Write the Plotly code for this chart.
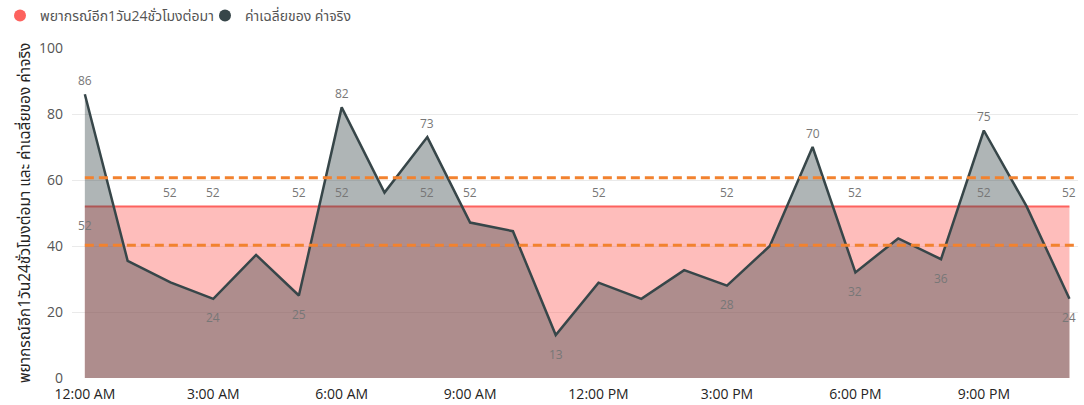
import plotly.graph_objects as go

# Hourly series for one day
hours = list(range(24))
tick_hours = [0, 3, 6, 9, 12, 15, 18, 21]
tick_labels = ["12:00 AM", "3:00 AM", "6:00 AM", "9:00 AM",
               "12:00 PM", "3:00 PM", "6:00 PM", "9:00 PM"]

forecast = [52] * 24
actual = [86, 35.5, 29, 24, 37.3, 25, 82, 56.2, 73, 47.1, 44.5, 13,
          28.9, 24, 32.7, 28, 40, 70, 32, 42.3, 36, 75, 52, 24]

# Which points carry a data label, and on which side of the mark
forecast_label_pos = {0: "below", 2: "above", 3: "above", 5: "above", 6: "above",
                      8: "above", 9: "above", 12: "above", 15: "above",
                      18: "above", 21: "above", 23: "above"}
actual_label_pos = {0: "above", 3: "below", 5: "below", 6: "above", 8: "above",
                    11: "below", 15: "below", 17: "above", 18: "below",
                    20: "below", 21: "above", 23: "below"}

# Reference band
upper_band = 60.7
lower_band = 40.2

legend_names = ["พยากรณ์อีก1วัน24ชั่วโมงต่อมา", "ค่าเฉลี่ยของ ค่าจริง"]
y_title = "พยากรณ์อีก1วัน24ชั่วโมงต่อมา และ ค่าเฉลี่ยของ ค่าจริง"

FONT = "Open Sans, Noto Sans, Noto Sans Thai, sans-serif"
RED = "#FD625E"
DARK = "#374649"
ORANGE = "#F2822F"

fig = go.Figure()

fig.add_trace(go.Scatter(
    x=hours, y=forecast, name=legend_names[0], mode="lines",
    line=dict(color=RED, width=2), fill="tozeroy",
    fillcolor="rgba(253,98,94,0.42)", showlegend=False,
))
fig.add_trace(go.Scatter(
    x=hours, y=actual, name=legend_names[1], mode="lines",
    line=dict(color=DARK, width=2.5), fill="tozeroy",
    fillcolor="rgba(55,70,73,0.40)", showlegend=False,
))

# Legend entries drawn as round swatches
for name, color in zip(legend_names, (RED, DARK)):
    fig.add_trace(go.Scatter(
        x=[None], y=[None], name=name, mode="markers",
        marker=dict(color=color, size=12, symbol="circle"),
    ))

x_max = 23.2
for level in (upper_band, lower_band):
    fig.add_shape(type="line", xref="x", yref="y", x0=hours[0], x1=x_max,
                  y0=level, y1=level, line=dict(color=ORANGE, width=3, dash="9px,5px"),
                  layer="above")

annotations = []
for series, positions in ((forecast, forecast_label_pos), (actual, actual_label_pos)):
    for i, side in positions.items():
        annotations.append(dict(
            x=hours[i], y=series[i], xref="x", yref="y",
            text=f"{series[i]:.0f}", showarrow=False,
            yshift=14 if side == "above" else -19,
            font=dict(family=FONT, size=12, color="#777777"),
        ))

fig.update_layout(
    width=1084, height=405,
    margin=dict(l=72, r=6, t=48, b=27),
    paper_bgcolor="white", plot_bgcolor="white",
    font=dict(family=FONT, color="#555555"),
    showlegend=True,
    legend=dict(orientation="h", xref="paper", yref="container",
                x=-0.0775, y=1.0, xanchor="left", yanchor="top",
                font=dict(size=14, color="#555555"),
                itemwidth=30, tracegroupgap=0, entrywidth=160),
    annotations=annotations,
    xaxis=dict(range=[-0.3, x_max], tickvals=tick_hours, ticktext=tick_labels,
               showgrid=False, zeroline=False, showline=False, automargin=False,
               tickfont=dict(size=14, color="#252423"), ticks="",
               ticklabelstandoff=6),
    yaxis=dict(range=[0, 100], tickvals=[0, 20, 40, 60, 80, 100],
               showgrid=True, gridcolor="#EAEAEA", gridwidth=1, zeroline=False,
               automargin=False,
               tickfont=dict(size=14, color="#555555"), ticklabelstandoff=8,
               title=dict(text=y_title, font=dict(size=15.5, color="#252423"),
                          standoff=4)),
)

fig.write_html("out.html")
